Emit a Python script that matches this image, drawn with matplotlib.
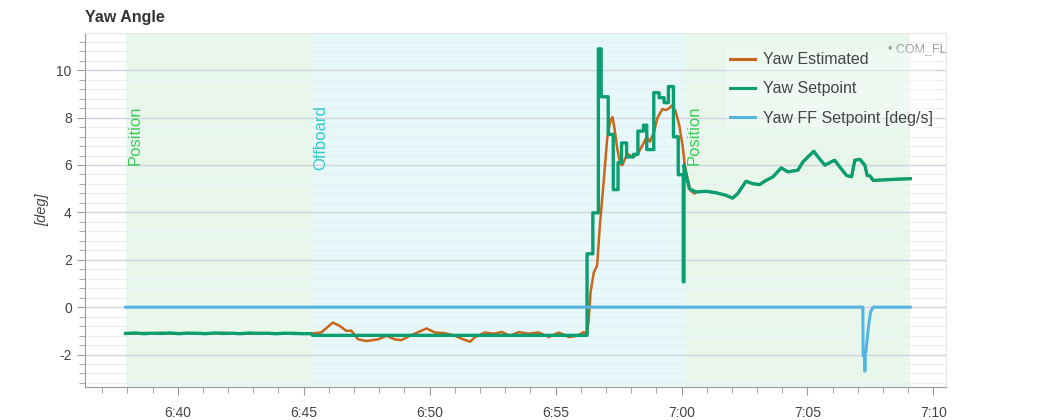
# yaw angle plot: estimated vs setpoint, with flight mode backgrounds
import matplotlib
matplotlib.use("Agg")
import matplotlib.pyplot as plt
import matplotlib.transforms as mtransforms
from matplotlib.ticker import MultipleLocator, FuncFormatter

plt.rcParams["font.family"] = ["Liberation Sans", "DejaVu Sans"]
plt.rcParams["axes.unicode_minus"] = False

# time in minutes after 6:00
mode_start = [37.93, 45.32, 60.13]
mode_end = [45.32, 60.13, 69.08]
mode_names = ["Position", "Offboard", "Position"]
mode_bg = ["#e7f8eb", "#e6f8f8", "#e7f8eb"]
mode_fg = ["#3ccc5a", "#36c8cc", "#3ccc5a"]

# shared tail after switching back to position (estimate ~ setpoint)
tail_t = [60.57, 60.97, 61.37, 61.76, 62.03, 62.23, 62.56, 62.83, 63.10, 63.29,
          63.63, 63.96, 64.22, 64.62, 64.82, 65.02, 65.25, 65.42, 65.69, 65.88,
          66.08, 66.28, 66.55, 66.75, 66.88, 67.08, 67.28, 67.37, 67.48, 67.61,
          68.01, 68.54, 69.08]
tail_v = [4.86, 4.89, 4.83, 4.72, 4.60, 4.79, 5.31, 5.21, 5.17, 5.31,
          5.50, 5.88, 5.71, 5.78, 6.13, 6.34, 6.58, 6.34, 5.99, 6.10,
          6.20, 5.92, 5.56, 5.50, 6.20, 6.24, 5.99, 5.56, 5.54, 5.35,
          5.37, 5.40, 5.42]

hover_t = [37.93, 38.30, 38.65, 39.00, 39.35, 39.70, 40.05, 40.40, 40.75, 41.10,
           41.45, 41.80, 42.15, 42.50, 42.85, 43.20, 43.55, 43.90, 44.25, 44.60,
           44.95, 45.30]
est_hover = [-1.10, -1.12, -1.09, -1.11, -1.08, -1.12, -1.10, -1.09, -1.12, -1.10,
             -1.11, -1.08, -1.11, -1.10, -1.12, -1.09, -1.11, -1.10, -1.12, -1.09,
             -1.11, -1.12]
sp_hover = [-1.11, -1.09, -1.12, -1.10, -1.11, -1.09, -1.12, -1.10, -1.10, -1.12,
            -1.09, -1.11, -1.10, -1.12, -1.09, -1.11, -1.10, -1.12, -1.10, -1.11,
            -1.12, -1.12]

est_t = [45.37, 45.70, 46.16, 46.43, 46.69, 46.89, 47.16, 47.49, 47.96, 48.29,
         48.62, 48.88, 49.22, 49.55, 49.88, 50.21, 50.61, 51.01, 51.34, 51.61,
         51.80, 52.20, 52.54, 52.87, 53.20, 53.53, 53.93, 54.33, 54.73, 55.13,
         55.53, 55.86, 56.12, 56.25, 56.32, 56.39, 56.52, 56.65, 56.76, 56.92,
         57.05, 57.18, 57.26, 57.34, 57.45, 57.56, 57.65, 57.85, 58.05, 58.25,
         58.45, 58.62, 58.75, 58.91, 59.04, 59.24, 59.37, 59.51, 59.64, 59.77,
         59.91, 60.04, 60.13, 60.24, 60.35, 60.51]
est_v = [-1.10, -1.07, -0.65, -0.79, -1.00, -0.99, -1.36, -1.43, -1.36, -1.21,
         -1.36, -1.39, -1.21, -1.05, -0.90, -1.07, -1.10, -1.21, -1.36, -1.46,
         -1.26, -1.07, -1.12, -1.05, -1.21, -1.05, -1.12, -1.07, -1.26, -1.07,
         -1.26, -1.21, -1.05, -1.15, -0.50, 0.63, 1.47, 1.75, 3.45, 5.42,
         7.12, 7.90, 8.02, 7.54, 6.69, 6.06, 5.99, 6.48, 6.34, 6.44,
         6.83, 7.19, 6.98, 7.40, 7.97, 8.36, 8.32, 8.39, 8.53, 8.25,
         7.68, 6.83, 5.99, 5.42, 4.93, 4.79]

# setpoint in offboard is a held step signal (duplicate times = steps)
sp_t = [45.35, 56.25, 56.25, 56.48, 56.48, 56.70, 56.70, 56.81, 56.81, 57.09,
        57.09, 57.29, 57.29, 57.48, 57.48, 57.62, 57.62, 57.82, 57.82, 58.09,
        58.09, 58.27, 58.27, 58.49, 58.49, 58.62, 58.62, 58.90, 58.90, 59.11,
        59.11, 59.31, 59.31, 59.48, 59.48, 59.68, 59.68, 59.87, 59.87, 60.07,
        60.07, 60.10, 60.10, 60.18, 60.31]
sp_v = [-1.19, -1.19, 2.25, 2.25, 3.98, 3.98, 10.90, 10.90, 8.88, 8.88,
        7.29, 7.29, 4.96, 4.96, 6.10, 6.10, 6.93, 6.93, 6.34, 6.34,
        6.45, 6.45, 7.43, 7.43, 7.68, 7.68, 6.65, 6.65, 9.05, 9.05,
        8.84, 8.84, 8.63, 8.63, 9.31, 9.31, 7.19, 7.19, 5.59, 5.59,
        1.07, 1.07, 6.00, 5.60, 5.00]

ff_t = [37.93, 67.20, 67.21, 67.27, 67.28, 67.29, 67.32, 67.41, 67.50, 67.58, 67.61, 69.08]
ff_v = [0.0, 0.0, -2.06, -2.10, -2.70, -2.00, -1.90, -0.93, -0.23, -0.05, 0.0, 0.0]

fig = plt.figure(figsize=(10.5, 4.2), dpi=100)
ax = fig.add_axes([85/1050, 33/420, (946-85)/1050, (387-33)/420])

for s, e, c in zip(mode_start, mode_end, mode_bg):
    ax.axvspan(s, e, color=c, lw=0, zorder=0)

trans = mtransforms.blended_transform_factory(ax.transData, ax.transAxes)
for s, n, c in zip(mode_start, mode_names, mode_fg):
    ax.text(s + 0.08, 0.795, n, rotation=90, color=c, fontsize=12,
            ha="left", va="top", transform=trans, zorder=1)

ax.plot(hover_t + est_t + tail_t, est_hover + est_v + tail_v, color="#c8661c",
        lw=1.8, label="Yaw Estimated", zorder=3)
ax.plot(hover_t + sp_t + tail_t, sp_hover + sp_v + tail_v, color="#0a9e70",
        lw=2.4, label="Yaw Setpoint", zorder=4)
ax.plot(ff_t, ff_v, color="#56b4e0", lw=2.2, label="Yaw FF Setpoint [deg/s]", zorder=5)

ax.text(68.21, 10.9, "\u2022 COM_FLTMODE1", color="#9a9a9a", fontsize=9,
        va="center", clip_on=True, zorder=2)

ax.set_xlim(36.32, 70.50)
ax.set_ylim(-3.37, 11.57)
ax.xaxis.set_major_locator(MultipleLocator(5))
ax.xaxis.set_minor_locator(MultipleLocator(1))
ax.xaxis.set_major_formatter(FuncFormatter(lambda v, p: "%d:%02d" % (6 + int(v // 60), int(round(v % 60)))))
ax.yaxis.set_major_locator(MultipleLocator(2))
ax.yaxis.set_minor_locator(MultipleLocator(0.4))

ax.grid(True, axis="y", which="major", color="#d3d3e3", lw=1.0, zorder=1)
ax.grid(True, axis="y", which="minor", color="#ececf4", lw=0.8, zorder=1)
ax.set_axisbelow(True)

ax.tick_params(axis="both", which="major", length=6, color="#999999",
               labelcolor="#444444", labelsize=10)
ax.tick_params(axis="both", which="minor", length=4, color="#999999")
ax.tick_params(axis="x", which="major", pad=8)
for side in ["left", "bottom"]:
    ax.spines[side].set_color("#999999")
for side in ["top", "right"]:
    ax.spines[side].set_color("#e6e6e6")

ax.set_ylabel("[deg]", fontstyle="italic", fontsize=10.5, color="#444444", labelpad=5)
ax.set_title("Yaw Angle", loc="left", fontweight="bold", fontsize=11.5,
             color="#333333", pad=8)

leg = ax.legend(loc="upper left", bbox_to_anchor=(0.745, 0.955), fontsize=11.5,
                frameon=True, framealpha=0.3, facecolor="white", edgecolor="none",
                fancybox=False, borderpad=0.2, labelspacing=0.9,
                handlelength=1.6, handletextpad=0.5, borderaxespad=0)
for t in leg.get_texts():
    t.set_color("#444444")
for h in leg.get_lines():
    h.set_linewidth(2.2)

fig.savefig("out.png", dpi=100)
